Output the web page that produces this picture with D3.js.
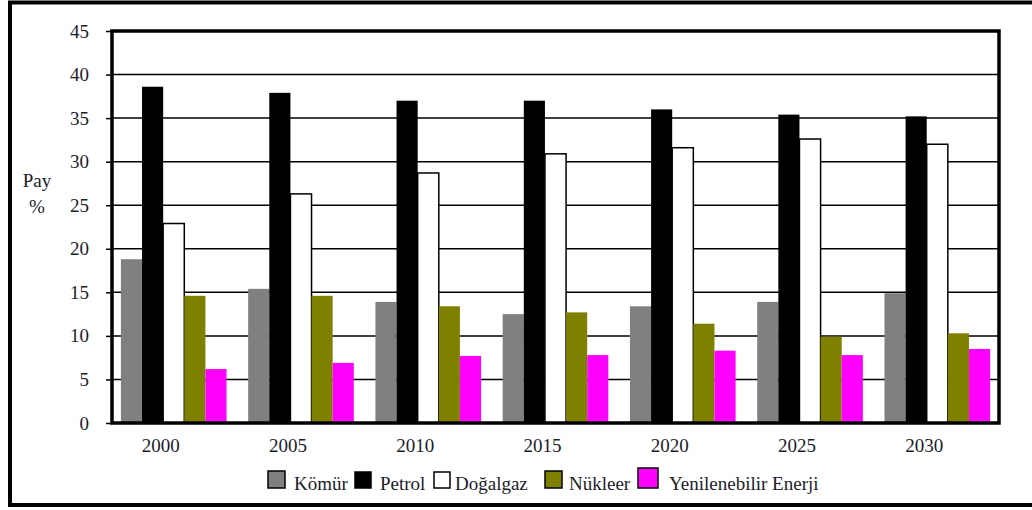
<!DOCTYPE html>
<html>
<head>
<meta charset="utf-8">
<script src="https://cdn.jsdelivr.net/npm/d3@7"></script>
<style>
  html, body { margin: 0; padding: 0; background: #fff; }
  svg { display: block; }
</style>
</head>
<body>
<svg id="chart" width="1032" height="510"></svg>
<script>
// Energy source shares (%) by year
const years = ["2000", "2005", "2010", "2015", "2020", "2025", "2030"];
const seriesNames = ["Kömür", "Petrol", "Doğalgaz", "Nükleer", "Yenilenebilir Enerji"];
const komur     = [18.8, 15.4, 13.9, 12.5, 13.4, 13.9, 14.9];
const petrol    = [38.6, 37.9, 37.0, 37.0, 36.0, 35.4, 35.2];
const dogalgaz  = [22.9, 26.3, 28.7, 30.9, 31.6, 32.6, 32.0];
const nukleer   = [14.6, 14.6, 13.4, 12.7, 11.4, 9.9, 10.3];
const yenilenebilir = [6.2, 6.9, 7.7, 7.8, 8.3, 7.8, 8.5];
const yTicks = [0, 5, 10, 15, 20, 25, 30, 35, 40, 45];

const seriesValues = [komur, petrol, dogalgaz, nukleer, yenilenebilir];
const colors = ["#808080", "#000000", "#ffffff", "#808000", "#ff00ff"];

const FONT = "'Liberation Serif', 'DejaVu Serif', 'Times New Roman', serif";
const FONT_SIZE = 19;
const TEXT_COLOR = "#1c1c2a";

const svg = d3.select("#chart").attr("font-family", FONT);

// outer frame
svg.append("rect")
  .attr("x", 10).attr("y", 2.5)
  .attr("width", 1040).attr("height", 502.5)
  .attr("fill", "none").attr("stroke", "#000").attr("stroke-width", 4);

const plot = { left: 112, right: 999, top: 31, bottom: 423 };

const x0 = d3.scaleBand()
  .domain(years)
  .range([plot.left, plot.right])
  .paddingInner(0.17)
  .paddingOuter(0.07);

const x1 = d3.scaleBand()
  .domain(seriesNames)
  .range([0, x0.bandwidth()])
  .padding(0);

const y = d3.scaleLinear().domain([0, 45]).range([plot.bottom, plot.top]);

// horizontal gridlines
svg.append("g")
  .selectAll("line")
  .data(yTicks.filter(t => t > 0 && t < 45))
  .join("line")
  .attr("x1", plot.left).attr("x2", plot.right)
  .attr("y1", d => y(d)).attr("y2", d => y(d))
  .attr("stroke", "#000").attr("stroke-width", 1.5);

// bars
const groups = svg.append("g")
  .selectAll("g")
  .data(years)
  .join("g")
  .attr("transform", d => `translate(${x0(d)},0)`);

groups.selectAll("rect")
  .data((d, i) => seriesNames.map((s, k) => ({ s, k, v: seriesValues[k][i] })))
  .join("rect")
  .attr("x", d => x1(d.s))
  .attr("y", d => y(d.v))
  .attr("width", x1.bandwidth())
  .attr("height", d => y(0) - y(d.v))
  .attr("fill", d => colors[d.k])
  .attr("stroke", d => d.k === 2 ? "#000" : "none")
  .attr("stroke-width", 1.5);

// plot border
svg.append("rect")
  .attr("x", plot.left).attr("y", plot.top)
  .attr("width", plot.right - plot.left).attr("height", plot.bottom - plot.top)
  .attr("fill", "none").attr("stroke", "#000").attr("stroke-width", 3.5);

// y axis
const yAxis = d3.axisLeft(y).tickValues(yTicks).tickSize(6).tickPadding(17);
const gy = svg.append("g").attr("transform", `translate(${plot.left},0)`).call(yAxis);
gy.attr("font-family", FONT).attr("font-size", FONT_SIZE);
gy.select(".domain").remove();
gy.selectAll(".tick line").attr("stroke", "#000").attr("stroke-width", 1.5);
gy.selectAll(".tick text").attr("fill", TEXT_COLOR);

// x axis labels
const xAxis = d3.axisBottom(x0).tickSize(0).tickPadding(16);
const gx = svg.append("g").attr("transform", `translate(-13,${plot.bottom})`).call(xAxis);
gx.attr("font-family", FONT).attr("font-size", FONT_SIZE);
gx.select(".domain").remove();
gx.selectAll(".tick text").attr("fill", TEXT_COLOR);

// y axis title
svg.append("text").attr("x", 37).attr("y", 187).attr("text-anchor", "middle")
  .attr("font-size", FONT_SIZE).attr("fill", TEXT_COLOR).text("Pay");
svg.append("text").attr("x", 37).attr("y", 213).attr("text-anchor", "middle")
  .attr("font-size", FONT_SIZE).attr("fill", TEXT_COLOR).text("%");

// legend
const legendSwatchX = [268, 355, 434, 545, 638];
const legendTextX = [294, 380, 455, 569, 669];
const legendSize = [17, 16, 16, 17, 20];
const legend = svg.append("g");
seriesNames.forEach((name, k) => {
  const s = legendSize[k];
  legend.append("rect")
    .attr("x", legendSwatchX[k]).attr("y", 488 - s)
    .attr("width", s).attr("height", s)
    .attr("fill", colors[k]).attr("stroke", "#000").attr("stroke-width", 1.5);
  legend.append("text")
    .attr("x", legendTextX[k]).attr("y", 490)
    .attr("font-size", FONT_SIZE).attr("fill", TEXT_COLOR)
    .text(name);
});
</script>
</body>
</html>
